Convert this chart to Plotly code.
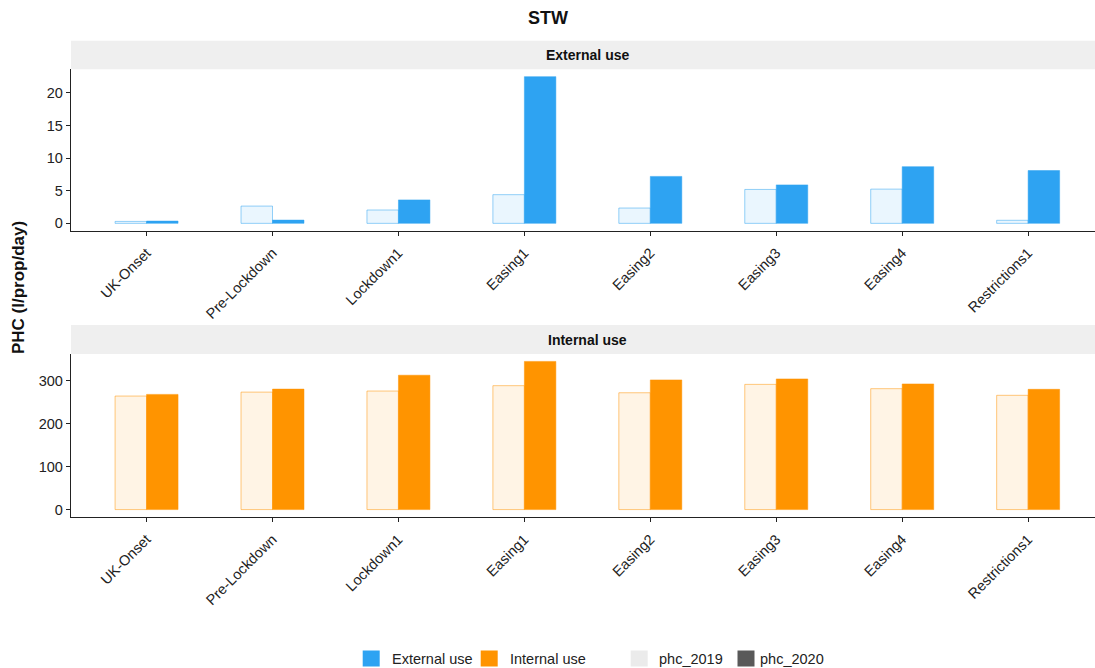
import plotly.graph_objects as go

# ---------------- data ----------------
categories = ["UK-Onset", "Pre-Lockdown", "Lockdown1", "Easing1",
              "Easing2", "Easing3", "Easing4", "Restrictions1"]
ext_phc_2019 = [0.3, 2.65, 2.05, 4.4, 2.35, 5.2, 5.25, 0.47]
ext_phc_2020 = [0.35, 0.5, 3.6, 22.5, 7.2, 5.9, 8.7, 8.1]
int_phc_2019 = [264.8, 274, 276.5, 289, 272.5, 292, 282, 266.5]
int_phc_2020 = [268.7, 281, 313.4, 345.6, 302.4, 304.7, 293, 280.5]
panel_titles = ["External use", "Internal use"]
legend_labels = ["External use", "Internal use", "phc_2019", "phc_2020"]

# ---------------- style ----------------
W, H = 1095, 668
ML, MR, MT, MB = 71, 0, 41, 151
PW, PH = W - ML - MR, H - MT - MB
FONT = "Liberation Sans, Arial, sans-serif"
BLUE = (46, 163, 242)
ORANGE = (255, 148, 0)


def rgba(c, a):
    return f"rgba({c[0]},{c[1]},{c[2]},{a})"


def px2x(px):
    return (px - ML) / PW


def py2y(py):
    return (MT + PH - py) / PH


fig = go.Figure()

panels = [
    (ext_phc_2019, ext_phc_2020, BLUE, "x", "y"),
    (int_phc_2019, int_phc_2020, ORANGE, "x2", "y2"),
]
for v19, v20, col, xa, ya in panels:
    fig.add_trace(go.Bar(
        x=categories, y=v19, width=0.25, offset=-0.25,
        marker=dict(color=rgba(col, 0.1), line=dict(color=rgba(col, 0.5), width=1)),
        xaxis=xa, yaxis=ya, showlegend=False, name="phc_2019"))
    fig.add_trace(go.Bar(
        x=categories, y=v20, width=0.25, offset=0,
        marker=dict(color=rgba(col, 1), line=dict(color=rgba(col, 0.5), width=1)),
        xaxis=xa, yaxis=ya, showlegend=False, name="phc_2020"))


def yrange(a, b):
    m = max(max(a), max(b))
    return [-0.05 * m, 1.05 * m]


xrange_ = [-0.6, -0.6 + PW / 125.94]

axis_common = dict(
    showline=True, linecolor="#222222", linewidth=1.3,
    ticks="outside", ticklen=4, tickwidth=1.1, tickcolor="#222222",
    showgrid=False, zeroline=False,
    tickfont=dict(family=FONT, size=14.5, color="#222222"),
)

top_dom = [py2y(230.7), py2y(69.3)]
bot_dom = [0, py2y(354)]

fig.update_layout(
    width=W, height=H,
    margin=dict(l=ML, r=MR, t=MT, b=MB),
    paper_bgcolor="white", plot_bgcolor="white",
    barmode="overlay",
    xaxis=dict(axis_common, anchor="y", domain=[0, 1], range=xrange_,
               type="category", categoryorder="array", categoryarray=categories,
               tickangle=-45, ticklabelstandoff=3),
    yaxis=dict(axis_common, anchor="x", domain=top_dom,
               range=yrange(ext_phc_2019, ext_phc_2020), dtick=5, tick0=0),
    xaxis2=dict(axis_common, anchor="y2", domain=[0, 1], range=xrange_,
                type="category", categoryorder="array", categoryarray=categories,
                tickangle=-45, ticklabelstandoff=3),
    yaxis2=dict(axis_common, anchor="x2", domain=bot_dom,
                range=yrange(int_phc_2019, int_phc_2020), dtick=100, tick0=0),
)

shapes = []
annotations = []

# facet strips
strips = [(40.7, 69.3, "x", panel_titles[0]), (325, 354, "x2", panel_titles[1])]
for top, bot, xr, label in strips:
    shapes.append(dict(type="rect", xref="paper", yref="paper",
                       x0=0, x1=1, y0=py2y(bot), y1=py2y(top),
                       fillcolor="#EFEFEF", line=dict(width=0), layer="below"))
    annotations.append(dict(text=f"<b>{label}</b>", xref=xr, yref="paper",
                            x=3.5, y=py2y((top + bot) / 2), showarrow=False,
                            xanchor="center", yanchor="middle",
                            font=dict(family=FONT, size=14, color="#111111")))

# title
annotations.append(dict(text="<b>STW</b>", xref="paper", yref="paper",
                        x=px2x(W / 2), y=py2y(18), showarrow=False,
                        xanchor="center", yanchor="middle",
                        font=dict(family=FONT, size=18, color="#111111")))
# y-axis title
annotations.append(dict(text="<b>PHC (l/prop/day)</b>", xref="paper", yref="paper",
                        x=px2x(18), y=py2y(288), showarrow=False, textangle=-90,
                        xanchor="center", yanchor="middle",
                        font=dict(family=FONT, size=17, color="#111111")))

# legend
leg_y0, leg_y1 = 650.5, 666.5
leg_items = [
    (362.7, 390, rgba(BLUE, 1), legend_labels[0]),
    (480.7, 507.5, rgba(ORANGE, 1), legend_labels[1]),
    (630.7, 656.5, "#EBEBEB", legend_labels[2]),
    (737.5, 757.5, "#595959", legend_labels[3]),
]
for sx, tx, col, label in leg_items:
    shapes.append(dict(type="rect", xref="paper", yref="paper",
                       x0=px2x(sx), x1=px2x(sx + 17), y0=py2y(leg_y1), y1=py2y(leg_y0),
                       fillcolor=col, line=dict(width=0)))
    annotations.append(dict(text=label, xref="paper", yref="paper",
                            x=px2x(tx), y=py2y((leg_y0 + leg_y1) / 2), showarrow=False,
                            xanchor="left", yanchor="middle",
                            font=dict(family=FONT, size=14.5, color="#222222")))

fig.update_layout(shapes=shapes, annotations=annotations)

fig.write_html("out.html")
